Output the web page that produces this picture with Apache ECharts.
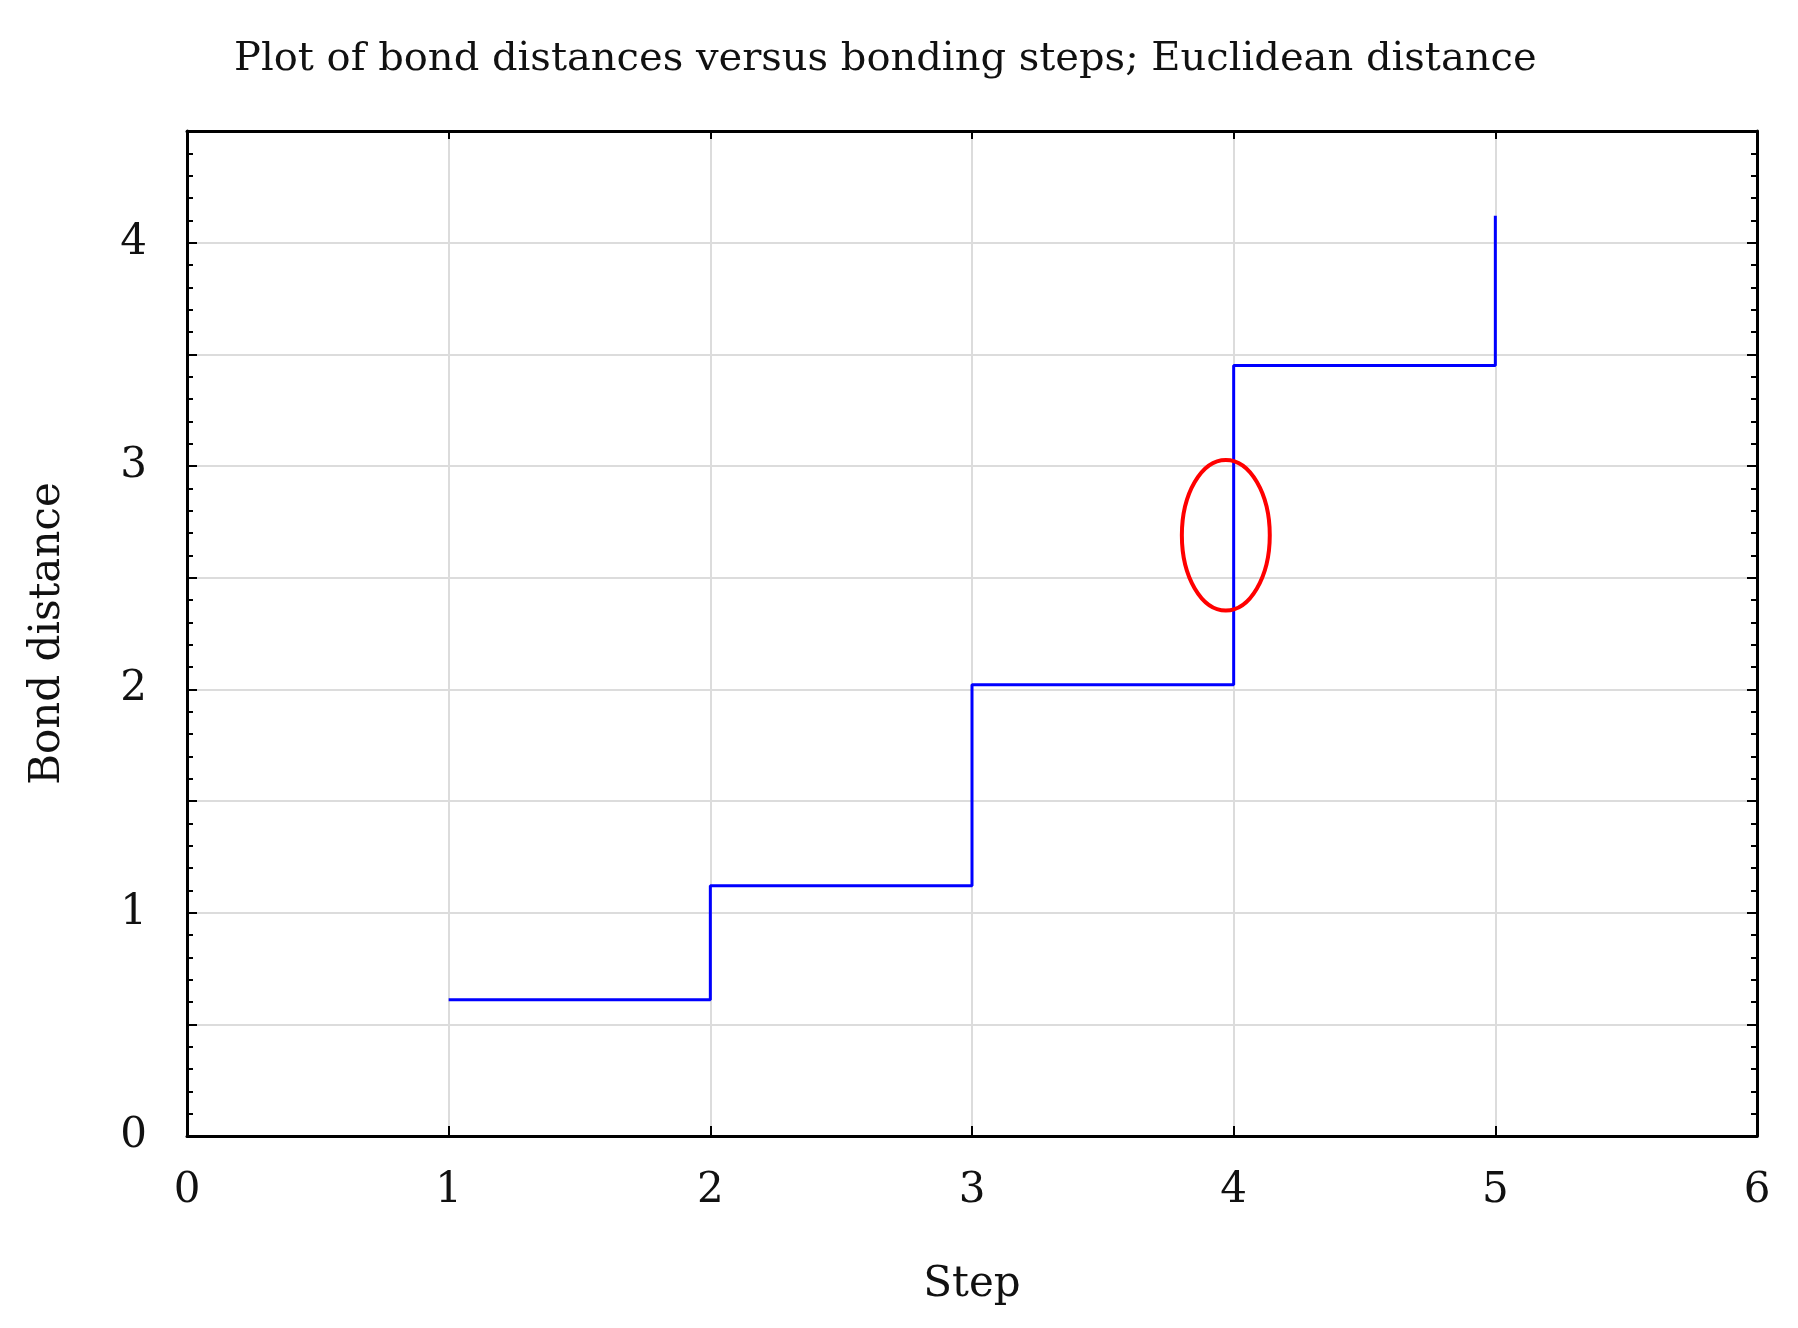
<!DOCTYPE html>
<html>
<head>
<meta charset="utf-8">
<script src="https://cdn.jsdelivr.net/npm/echarts@6/dist/echarts.min.js"></script>
<style>
html,body{margin:0;padding:0;background:#fff;}
#chart{width:1798px;height:1328px;}
</style>
</head>
<body>
<div id="chart"></div>
<script>
// Data
const steps = [1, 2, 3, 4, 5];
const bondDistances = [0.61, 1.12, 2.02, 3.45, 4.12];
const xTickLabels = ['0', '1', '2', '3', '4', '5', '6'];
const yTickLabels = ['0', '1', '2', '3', '4'];
// annotation ellipse: [centerX, centerY, radiusX, radiusY] in data units
const highlightEllipse = [[3.97, 2.69, 0.168, 0.337]];

const titleText = 'Plot of bond distances versus bonding steps; Euclidean distance';
const FONT = 'DejaVu Serif';

const chart = echarts.init(document.getElementById('chart'), null, {renderer: 'canvas'});

const lineData = steps.map((s, i) => [s, bondDistances[i]]);

const axisLineStyle = {color: '#000', width: 3};
const tickStyle = {color: '#000', width: 2};

chart.setOption({
  animation: false,
  backgroundColor: '#fff',
  title: {
    text: titleText,
    left: 229,
    top: 35,
    textStyle: {fontFamily: FONT, fontSize: 40, fontWeight: 'normal', color: '#111'}
  },
  grid: {left: 187, right: 41, top: 131, bottom: 192, containLabel: false},
  xAxis: [
    {
      type: 'value', min: 0, max: 6, interval: 1, position: 'bottom',
      name: 'Step', nameLocation: 'middle', nameGap: 128,
      nameTextStyle: {fontFamily: FONT, fontSize: 42, color: '#111'},
      axisLine: {show: true, onZero: false, lineStyle: axisLineStyle},
      axisTick: {show: true, inside: true, length: 10, lineStyle: tickStyle},
      axisLabel: {
        fontFamily: FONT, fontSize: 42, color: '#111', margin: 34,
        formatter: v => xTickLabels[Math.round(v)] ?? ''
      },
      splitLine: {show: true, lineStyle: {color: '#dcdcdc', width: 2}}
    },
    {
      type: 'value', min: 0, max: 6, interval: 1, position: 'top',
      axisLine: {show: true, onZero: false, lineStyle: axisLineStyle},
      axisTick: {show: true, inside: true, length: 8, lineStyle: tickStyle},
      axisLabel: {show: false},
      splitLine: {show: false}
    }
  ],
  yAxis: [
    {
      type: 'value', min: 0, max: 4.5, interval: 0.5, position: 'left',
      name: 'Bond distance', nameLocation: 'middle', nameGap: 118,
      nameTextStyle: {fontFamily: FONT, fontSize: 42, color: '#111'},
      axisLine: {show: true, onZero: false, lineStyle: axisLineStyle},
      axisTick: {show: true, inside: true, length: 10, lineStyle: tickStyle},
      minorTick: {show: true, splitNumber: 5, length: 6, lineStyle: tickStyle},
      axisLabel: {
        fontFamily: FONT, fontSize: 42, color: '#111', margin: 40,
        formatter: v => Number.isInteger(v) ? (yTickLabels[v] ?? '') : ''
      },
      splitLine: {show: true, lineStyle: {color: '#dcdcdc', width: 2}}
    },
    {
      type: 'value', min: 0, max: 4.5, interval: 0.5, position: 'right',
      axisLine: {show: true, onZero: false, lineStyle: axisLineStyle},
      axisTick: {show: true, inside: true, length: 10, lineStyle: tickStyle},
      minorTick: {show: true, splitNumber: 5, length: 6, lineStyle: tickStyle},
      axisLabel: {show: false},
      splitLine: {show: false}
    }
  ],
  series: [
    {
      type: 'line',
      xAxisIndex: 0, yAxisIndex: 0,
      data: lineData,
      step: 'end',
      showSymbol: false,
      symbol: 'none',
      lineStyle: {color: '#0000ff', width: 3},
      z: 3
    },
    {
      type: 'custom',
      xAxisIndex: 0, yAxisIndex: 0,
      data: highlightEllipse,
      encode: {x: 0, y: 1},
      clip: false,
      renderItem: function (params, api) {
        const c = api.coord([api.value(0), api.value(1)]);
        const s = api.size([api.value(2), api.value(3)]);
        return {
          type: 'ellipse',
          shape: {cx: c[0], cy: c[1], rx: s[0], ry: s[1]},
          style: {fill: 'none', stroke: '#ff0000', lineWidth: 4}
        };
      },
      z: 4
    }
  ]
});
</script>
</body>
</html>
